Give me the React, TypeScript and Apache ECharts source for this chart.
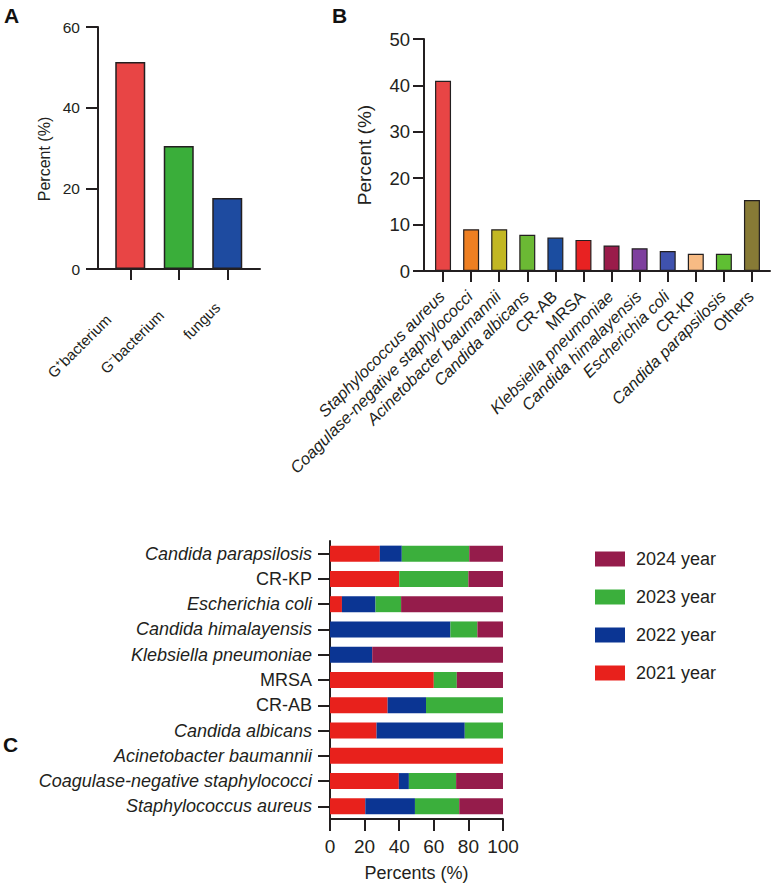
import React, { useEffect, useRef } from "react";
import * as echarts from "echarts";

const FONT = "'Liberation Sans', Arial, Helvetica, sans-serif";
const INK = "#231F20";

// Panel A
const catsA = ["G\u207Abacterium", "G\u207Bbacterium", "fungus"];
const valsA = [51.3, 30.5, 17.6];
const colorsA = ["#E84545", "#3AAE3A", "#1E4BA0"];
const ticksA = { min: 0, max: 60, interval: 20 };
const labelShiftA = [31, 25, 14];

// Panel B
const catsB = [
  "Staphylococcus aureus",
  "Coagulase-negative staphylococci",
  "Acinetobacter baumannii",
  "Candida albicans",
  "CR-AB",
  "MRSA",
  "Klebsiella pneumoniae",
  "Candida himalayensis",
  "Escherichia coli",
  "CR-KP",
  "Candida parapsilosis",
  "Others",
];
const valsB = [41.0, 9.0, 9.0, 7.8, 7.2, 6.7, 5.5, 4.9, 4.3, 3.7, 3.7, 15.3];
const colorsB = [
  "#E84545", "#EE7F22", "#C2B723", "#6BB934", "#1B4DA0", "#E82222",
  "#9A1B4A", "#7E3F9E", "#3F52AE", "#F7BB84", "#5FBF33", "#877A36",
];
const ticksB = { min: 0, max: 50, interval: 10 };

// Panel C (bottom to top)
const catsC = [
  "Staphylococcus aureus",
  "Coagulase-negative staphylococci",
  "Acinetobacter baumannii",
  "Candida albicans",
  "CR-AB",
  "MRSA",
  "Klebsiella pneumoniae",
  "Candida himalayensis",
  "Escherichia coli",
  "CR-KP",
  "Candida parapsilosis",
];
const y2021 = [20.4, 39.8, 100, 26.9, 33.3, 60.0, 0, 0, 6.9, 40.0, 28.8];
const y2022 = [28.7, 5.8, 0, 51.0, 22.2, 0, 24.4, 69.6, 19.4, 0, 12.7];
const y2023 = [25.6, 27.3, 0, 22.1, 44.5, 13.3, 0, 15.6, 14.8, 40.0, 39.0];
const y2024 = [25.3, 27.1, 0, 0, 0, 26.7, 75.6, 14.8, 58.9, 20.0, 19.5];
const yearNames = ["2021 year", "2022 year", "2023 year", "2024 year"];
const yearColors = ["#E8211C", "#0B3593", "#3BAF3C", "#951C4B"];
const legendOrder = ["2024 year", "2023 year", "2022 year", "2021 year"];
const ticksC = { min: 0, max: 100, interval: 20 };

const nonItalic = new Set(["CR-AB", "MRSA", "CR-KP", "Others"]);

export default function App() {
  const ref = useRef<HTMLDivElement>(null);
  useEffect(() => {
    if (!ref.current) return;
    const chart = echarts.init(ref.current, undefined, { renderer: "svg" });
    const line = { show: true, lineStyle: { color: INK, width: 2 } };
    const tick = (len: number) => ({ show: true, length: len, lineStyle: { color: INK, width: 2 } });
    const frameX = (gi: number) => ({
      type: "value", gridIndex: gi, min: 0, max: 1,
      axisLine: line, axisTick: { show: false }, axisLabel: { show: false }, splitLine: { show: false },
    });
    const hiddenY = (gi: number) => ({ type: "value", gridIndex: gi, show: false, min: 0, max: 1 });
    const richLabel = (size: number, padRight = 0) => ({
      i: { fontStyle: "italic", fontSize: size, fontFamily: FONT, color: INK, padding: [0, padRight, 0, 0] },
      n: { fontStyle: "normal", fontSize: size, fontFamily: FONT, color: INK, padding: [0, padRight, 0, 0] },
    });
    const fmt = (v: string) => (nonItalic.has(v) ? `{n|${v}}` : `{i|${v}}`);
    const yearData = [y2021, y2022, y2023, y2024];
    const richA: any = {};
    labelShiftA.forEach((s, i) => {
      richA["a" + i] = { fontSize: 15, fontFamily: FONT, color: INK, padding: [0, s, 0, 0] };
    });

    const option: any = {
      animation: false,
      backgroundColor: "#ffffff",
      textStyle: { fontFamily: FONT, color: INK },
      grid: [
        { left: 106, top: 27, width: 145.5, height: 242 },
        { left: 98, top: 27, width: 162, height: 242 },
        { left: 429, top: 39, width: 337, height: 232 },
        { left: 424, top: 39, width: 346, height: 232 },
        { left: 330, top: 541, width: 173, height: 278 },
      ],
      xAxis: [
        {
          type: "category", gridIndex: 0, data: catsA,
          axisLine: { show: false }, axisTick: { ...tick(11), alignWithLabel: true },
          axisLabel: {
            rotate: 45, margin: 26, interval: 0,
            formatter: (v: string, i: number) => `{a${i}|${v}}`, rich: richA,
          },
        },
        frameX(1),
        {
          type: "category", gridIndex: 2, data: catsB,
          axisLine: { show: false }, axisTick: { ...tick(11), alignWithLabel: true },
          axisLabel: { rotate: 45, margin: 21, formatter: fmt, rich: richLabel(16.5, 2), interval: 0 },
        },
        frameX(3),
        {
          type: "value", gridIndex: 4, ...ticksC,
          axisLine: line, axisTick: tick(12), splitLine: { show: false },
          axisLabel: { fontSize: 19, margin: 18, color: INK, fontFamily: FONT },
          name: "Percents (%)", nameLocation: "middle", nameGap: 45,
          nameTextStyle: { fontSize: 18, color: INK, fontFamily: FONT },
        },
      ],
      yAxis: [
        {
          type: "value", gridIndex: 0, ...ticksA, offset: 8,
          axisLine: line, axisTick: tick(12), splitLine: { show: false },
          axisLabel: { fontSize: 15.5, margin: 18, color: INK, fontFamily: FONT },
        },
        hiddenY(1),
        {
          type: "value", gridIndex: 2, ...ticksB, offset: 5,
          axisLine: line, axisTick: tick(11), splitLine: { show: false },
          axisLabel: { fontSize: 18.5, margin: 14, color: INK, fontFamily: FONT },
          name: "Percent (%)", nameLocation: "middle", nameGap: 50,
          nameTextStyle: { fontSize: 19, color: INK, fontFamily: FONT },
        },
        hiddenY(3),
        {
          type: "category", gridIndex: 4, data: catsC,
          axisLine: line, axisTick: { ...tick(12), alignWithLabel: true },
          axisLabel: { margin: 18, formatter: fmt, rich: richLabel(18), interval: 0 },
        },
      ],
      legend: {
        data: legendOrder, orient: "vertical", left: 590, top: 545,
        itemWidth: 30, itemHeight: 15, itemGap: 20, icon: "rect",
        textStyle: { fontSize: 18, color: INK, fontFamily: FONT, padding: [0, 0, 0, 6] },
      },
      graphic: [
        { type: "text", left: 4, top: 5, style: { text: "A", font: `bold 21px ${FONT}`, fill: "#111" } },
        { type: "text", left: 332, top: 5, style: { text: "B", font: `bold 21px ${FONT}`, fill: "#111" } },
        { type: "text", left: 3, top: 734, style: { text: "C", font: `bold 21px ${FONT}`, fill: "#111" } },
        {
          type: "text", x: 44, y: 159, rotation: Math.PI / 2,
          style: { text: "Percent (%)", font: `16px ${FONT}`, fill: INK, align: "center", verticalAlign: "middle" },
        },
      ],
      series: [
        {
          type: "bar", xAxisIndex: 0, yAxisIndex: 0, barWidth: 30,
          data: valsA.map((v, i) => ({ value: v, itemStyle: { color: colorsA[i] } })),
          itemStyle: { borderColor: INK, borderWidth: 1.5 },
        },
        {
          type: "bar", xAxisIndex: 2, yAxisIndex: 2, barWidth: 16,
          data: valsB.map((v, i) => ({ value: v, itemStyle: { color: colorsB[i] } })),
          itemStyle: { borderColor: INK, borderWidth: 1.2 },
        },
        ...yearNames.map((n, k) => ({
          type: "bar", name: n, stack: "c", xAxisIndex: 4, yAxisIndex: 4, barWidth: 16,
          data: yearData[k], itemStyle: { color: yearColors[k] },
        })),
      ],
    };
    chart.setOption(option);
    return () => chart.dispose();
  }, []);
  return <div ref={ref} style={{ position: "absolute", left: 0, top: 0, width: 773, height: 885 }} />;
}
